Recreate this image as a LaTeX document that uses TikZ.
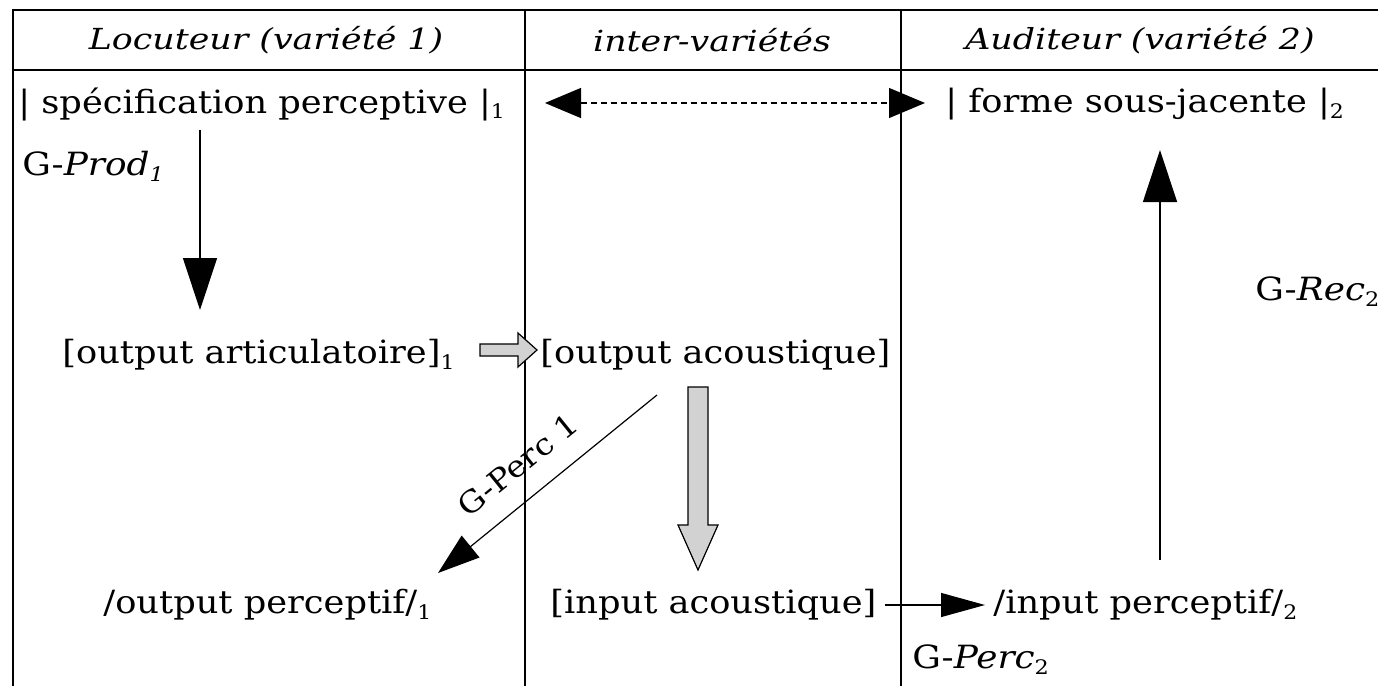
\documentclass[tikz,border=0pt]{standalone}
\usepackage{fontspec}
\setmainfont{DejaVu Serif}[FakeStretch=1.1]
\newfontfamily\hdrf{DejaVu Serif}[FakeStretch=1.2]
\newfontfamily\lblf{DejaVu Serif}[FakeStretch=1.12]
\usetikzlibrary{arrows.meta}
\newcommand{\sbs}[1]{\raisebox{-0.35ex}{\fontsize{10}{10}\selectfont #1}}
\begin{document}
\begin{tikzpicture}[x=0.5pt,y=-0.5pt,
  txt/.style={inner sep=0pt, font=\fontsize{16}{19}\selectfont},
  hdr/.style={inner sep=0pt, font=\hdrf\fontsize{14.5}{17}\selectfont\itshape},
  lbl/.style={inner sep=0pt, font=\lblf\fontsize{16}{19}\selectfont},
  rot/.style={inner sep=0pt, font=\fontsize{15}{18}\selectfont},
  rule/.style={line width=1pt},
  col/.style={line width=0.8pt},
  conn/.style={line width=0.6pt},
  bigtip/.style={-{Triangle[length=26pt,width=17pt]}},
  midtip/.style={-{Triangle[length=21pt,width=14pt]}},
  fat/.style={draw, line width=0.6pt, fill=gray!35}
]
\useasboundingbox (0,0) rectangle (1378,686);
\fill[white] (0,0) rectangle (1378,686);
% table
\draw[rule] (1378,10) -- (13,10) -- (13,686);
\draw[rule] (13,70) -- (1378,70);
\draw[col] (525,10) -- (525,686);
\draw[col] (901,10) -- (901,686);
% headers
\node[hdr] (h1) at (266,40) {Locuteur (variété 1)};
\node[hdr] (h2) at (712,40) {inter-variétés};
\node[hdr] (h3) at (1140,40) {Auditeur (variété 2)};
% texts
\node[txt, anchor=west] (spec) at (18,104) {| spécification perceptive |\sbs{1}};
\node[txt, anchor=west] (forme) at (945,104) {| forme sous-jacente |\sbs{2}};
\node[lbl, anchor=west] (gprod) at (22,166) {G-\textit{Prod}\sbs{\textit{1}}};
\node[txt, anchor=west] (outart) at (62,355) {[output articulatoire]\sbs{1}};
\node[txt, anchor=west] (outac) at (540,355) {[output acoustique]};
\node[lbl, anchor=west] (grec) at (1255,292) {G-\textit{Rec}\sbs{2}};
\node[txt, anchor=west] (outperc) at (103,605) {/output perceptif/\sbs{1}};
\node[txt, anchor=west] (inac) at (550,605) {[input acoustique]};
\node[txt, anchor=west] (inperc) at (993,605) {/input perceptif/\sbs{2}};
\node[lbl, anchor=west] (gperc2) at (912,660) {G-\textit{Perc}\sbs{2}};
\node[rot, rotate=39] (gperc1) at (518,465) {G-Perc 1};
% connector endpoints
\coordinate (d1) at (545,103);
\coordinate (d2) at (925,103);
\coordinate (p1) at (200,130);
\coordinate (p2) at (200,310);
\coordinate (c1) at (657,395);
\coordinate (c2) at (438,573);
\coordinate (e1) at (885,605);
\coordinate (e2) at (985,605);
\coordinate (r1) at (1160,560);
\coordinate (r2) at (1160,150);
% connectors
\draw[conn, dashed, dash pattern=on 3pt off 2pt, {Triangle[length=18pt,width=15pt]}-{Triangle[length=18pt,width=15pt]}] (d1) -- (d2);
\draw[conn, bigtip] (p1) -- (p2);
\draw[conn, midtip] (c1) -- (c2);
\draw[conn, {-Triangle[length=22pt,width=12pt]}] (e1) -- (e2);
\draw[conn, bigtip] (r1) -- (r2);
% fat arrows
\draw[fat] (480,344) -- (518,344) -- (518,333) -- (537,350) -- (518,367) -- (518,356) -- (480,356) -- cycle;
\draw[fat] (688,387) -- (708,387) -- (708,525) -- (718,525) -- (698,570) -- (678,525) -- (688,525) -- cycle;
\end{tikzpicture}
\end{document}
